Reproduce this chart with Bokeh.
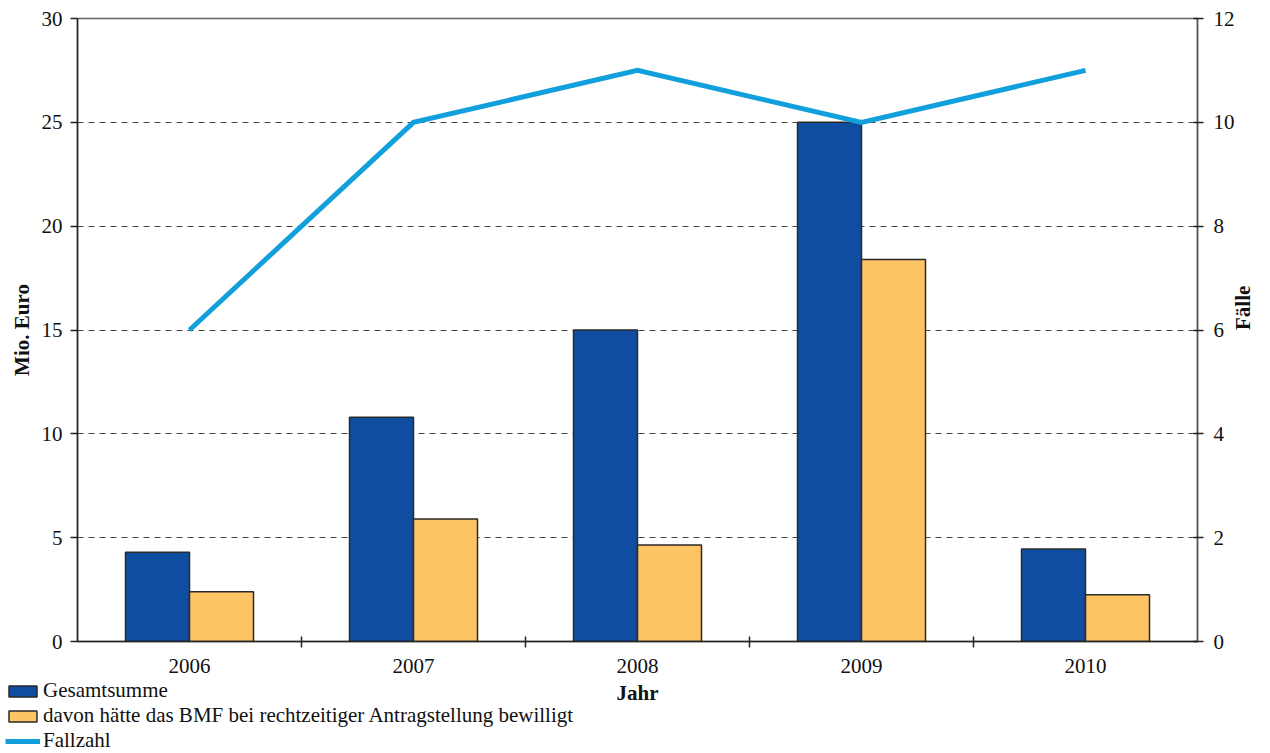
from math import pi

from bokeh.plotting import figure
from bokeh.layouts import column
from bokeh.models import (Range1d, LinearAxis, FixedTicker, Legend, LegendItem,
                          ColumnDataSource, Label)
from bokeh.embed import file_html
from bokeh.resources import INLINE

# Data
years = ["2006", "2007", "2008", "2009", "2010"]
gesamtsumme = [4.3, 10.8, 15.0, 25.0, 4.45]          # Mio. Euro
bewilligt = [2.4, 5.9, 4.65, 18.4, 2.25]             # Mio. Euro
fallzahl = [6, 10, 11, 10, 11]                       # Fälle

FONT = "Liberation Serif"
FS = "21px"
BLUE = "#0E4DA0"
ORANGE = "#FEC565"
CYAN = "#12A0DC"
TXT = "#111111"
EDGE = "#2a2a2a"

n = len(years)
centers = [i + 0.5 for i in range(n)]
bar_w = 0.2857

src = ColumnDataSource(dict(
    xg=[c - bar_w / 2 for c in centers],
    xb=[c + bar_w / 2 for c in centers],
    xc=centers,
    gesamt=gesamtsumme,
    bew=bewilligt,
    faelle=fallzahl,
))

# ---- main chart -------------------------------------------------------------
TOP_H = 677
p = figure(width=1270, height=TOP_H, output_backend="svg", toolbar_location=None,
           x_range=Range1d(0, n), y_range=Range1d(0, 30),
           min_border_left=77, min_border_right=73, min_border_top=18,
           min_border_bottom=TOP_H - 641)
p.frame_align = False
p.background_fill_color = "white"
p.border_fill_color = "white"
p.outline_line_color = "#666666"
p.outline_line_width = 1.5

p.extra_y_ranges = {"faelle": Range1d(0, 12)}

# Bars
p.vbar(x="xg", top="gesamt", width=bar_w, source=src, fill_color=BLUE,
       line_color=EDGE, line_width=1.5)
p.vbar(x="xb", top="bew", width=bar_w, source=src, fill_color=ORANGE,
       line_color=EDGE, line_width=1.5)

# Case count line on the secondary axis
p.line(x="xc", y="faelle", source=src, y_range_name="faelle",
       line_color=CYAN, line_width=5, line_cap="butt", line_join="miter")

# Grid
p.xgrid.visible = False
p.ygrid.grid_line_color = "#444444"
p.ygrid.grid_line_dash = "6 5"
p.ygrid.grid_line_width = 1
p.ygrid.ticker = FixedTicker(ticks=[5, 10, 15, 20, 25])

# X axis: labels at category centres, ticks between categories
xa = p.xaxis[0]
xa.ticker = FixedTicker(ticks=centers, minor_ticks=list(range(1, n)))
xa.major_label_overrides = {c: y for c, y in zip(centers, years)}
xa.major_tick_in = 0
xa.major_tick_out = 0
xa.minor_tick_in = 5
xa.minor_tick_out = 6
xa.minor_tick_line_color = "#222222"
xa.minor_tick_line_width = 1.5
xa.axis_line_color = "#222222"
xa.axis_line_width = 1.5
xa.major_label_text_font = FONT
xa.major_label_text_font_size = FS
xa.major_label_text_color = TXT
xa.major_label_standoff = 11

# Left axis
ya = p.yaxis[0]
ya.ticker = FixedTicker(ticks=[0, 5, 10, 15, 20, 25, 30])
ya.major_tick_in = 0
ya.major_tick_out = 7
ya.minor_tick_line_color = None
ya.major_tick_line_color = "#222222"
ya.major_tick_line_width = 1.5
ya.axis_line_color = "#222222"
ya.axis_line_width = 1.5
ya.major_label_text_font = FONT
ya.major_label_text_font_size = FS
ya.major_label_text_color = TXT
ya.major_label_standoff = 8
ya.axis_label = "Mio. Euro"
ya.axis_label_text_font = FONT
ya.axis_label_text_font_size = FS
ya.axis_label_text_font_style = "bold"
ya.axis_label_text_color = TXT
ya.axis_label_standoff = 5

# Right axis
ra = LinearAxis(y_range_name="faelle", ticker=FixedTicker(ticks=[0, 2, 4, 6, 8, 10, 12]))
ra.major_tick_in = 4
ra.major_tick_out = 6
ra.minor_tick_line_color = None
ra.major_tick_line_color = "#222222"
ra.major_tick_line_width = 1.5
ra.axis_line_color = "#555555"
ra.axis_line_width = 1.5
ra.major_label_text_font = FONT
ra.major_label_text_font_size = FS
ra.major_label_text_color = TXT
ra.major_label_standoff = 10
ra.axis_label = "Fälle"
ra.axis_label_text_font = FONT
ra.axis_label_text_font_size = FS
ra.axis_label_text_font_style = "bold"
ra.axis_label_text_color = TXT
ra.axis_label_standoff = 5
ra.axis_label_orientation = pi / 2
p.add_layout(ra, "right")

# ---- strip below: axis title and legend ---------------------------------------
W, H = 1270, 753 - TOP_H
q = figure(width=W, height=H, output_backend="svg", toolbar_location=None,
           x_range=Range1d(0, W), y_range=Range1d(0, H),
           x_axis_location=None, y_axis_location=None,
           min_border=0, min_border_left=0, min_border_right=0,
           min_border_top=0, min_border_bottom=0)
q.frame_align = False
q.outline_line_color = None
q.background_fill_color = "white"
q.border_fill_color = "white"
q.xgrid.visible = False
q.ygrid.visible = False

q.add_layout(Label(x=637, y=753 - 692, x_units="screen", y_units="screen", text="Jahr",
                   text_align="center", text_baseline="middle",
                   text_font=FONT, text_font_size=FS, text_font_style="bold",
                   text_color=TXT))

# legend keys styled like the chart's marks (hidden here, shown only in the legend)
k_g = q.vbar(x="xg", top="gesamt", width=bar_w, source=src, fill_color=BLUE,
             line_color=EDGE, line_width=1.5, visible=False)
k_b = q.vbar(x="xb", top="bew", width=bar_w, source=src, fill_color=ORANGE,
             line_color=EDGE, line_width=1.5, visible=False)
k_l = q.line(x="xc", y="faelle", source=src, line_color=CYAN, line_width=5,
             line_cap="butt", visible=False)

legend = Legend(items=[
    LegendItem(label="Gesamtsumme", renderers=[k_g]),
    LegendItem(label="davon hätte das BMF bei rechtzeitiger Antragstellung bewilligt", renderers=[k_b]),
    LegendItem(label="Fallzahl", renderers=[k_l]),
], location=(5, 0), orientation="vertical",
    glyph_width=35, glyph_height=14, label_text_font=FONT,
    label_text_font_size=FS, label_text_color=TXT,
    label_standoff=3, label_height=20, spacing=0, padding=0, margin=0,
    border_line_color=None, background_fill_alpha=0)
q.add_layout(legend, "center")

layout = column(p, q, spacing=0)
open("out.html", "w").write(file_html(layout, INLINE))
